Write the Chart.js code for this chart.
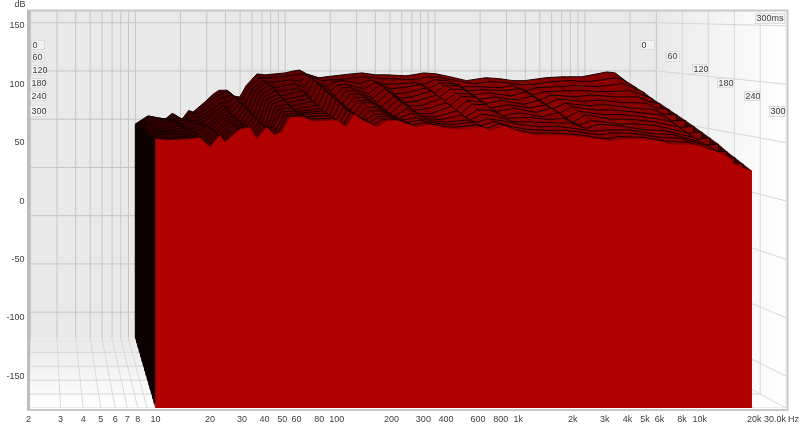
<!DOCTYPE html>
<html>
<head>
<meta charset="utf-8">
<title>Waterfall</title>
<script src="https://cdn.jsdelivr.net/npm/chart.js@4"></script>
<style>
  html, body { margin: 0; padding: 0; background: #fff; }
  canvas { display: block; }
</style>
</head>
<body>
<canvas id="waterfall" width="800" height="427"></canvas>
<script>
/* ── Axis ticks ── */
const dbTicks = [150, 100, 50, 0, -50, -100, -150];
const freqTicks = [2, 3, 4, 5, 6, 7, 8, 10, 20, 30, 40, 50, 60, 80, 100, 200, 300, 400, 600, 800,
  1000, 2000, 3000, 4000, 5000, 6000, 8000, 10000, 20000];
const gridFreqs = [2, 3, 4, 5, 6, 7, 8, 9, 10, 20, 30, 40, 50, 60, 70, 80, 90, 100, 200, 300, 400, 500,
  600, 700, 800, 900, 1000, 2000, 3000, 4000, 5000, 6000, 7000, 8000, 9000, 10000, 20000, 30000];
const timeTicks = [0, 60, 120, 180, 240, 300];

/* ── Waterfall data: dB per frequency, one list per time slice ── */
const freqs = [10, 12, 15.5, 17.6, 20, 22.7, 24.1, 29.2, 33.1, 36.2,
  41.1, 45.5, 49.8, 55, 64.9, 73.7, 100, 113, 125, 139,
  168, 188, 214, 275, 325, 403, 475, 636, 713, 841,
  1020, 1260, 1620, 2180, 2700, 3310, 3950, 5500, 7080, 9550, 14000, 15900, 19300];

const sliceTimes = [0, 20, 40, 60, 80, 100, 120, 140, 160, 180, 200, 220, 240, 260, 280, 300];

const slice0 = [45,53,49,56,48,59,57,68,76,80, 80,74,73,85,97,96,98,100,101,97, 93,94,95,97,98,96,96,95,96,98, 97,94,90,93,92,90,90,93,94,94,99,98,88];
const slice20 = [47,55,51,57,50,60,58,67,75,78, 79,73,72,84,94,94,96,97,98,95, 91,92,92,94,95,93,93,92,93,95, 94,91,88,90,89,87,87,90,91,90,94,92,84];
const slice40 = [49,56,53,57,52,59,58,65,73,75, 78,70,69,84,92,90,93,91,98,92, 86,91,92,89,93,88,89,90,88,93, 92,86,86,85,87,82,85,86,87,86,89,86,80];
const slice60 = [51,56,55,56,54,57,57,64,71,71, 77,68,66,83,91,86,90,86,96,90, 83,89,89,85,91,85,86,89,85,91, 90,83,84,83,85,79,82,83,83,82,83,80,75];
const slice80 = [52,55,56,55,55,55,56,63,69,67, 76,65,64,82,90,83,87,81,95,87, 79,87,87,81,90,81,82,87,82,89, 89,80,82,79,83,75,80,78,80,78,78,74,71];
const slice100 = [53,54,57,53,55,54,55,63,68,64, 74,63,62,81,88,80,85,78,92,85, 76,85,85,78,87,78,79,85,79,87, 86,77,79,76,80,72,77,75,76,74,73,69,67];
const slice120 = [54,53,57,52,54,54,53,62,67,61, 73,61,61,80,86,78,82,75,90,82, 74,83,83,75,85,75,76,82,76,84, 83,74,77,73,77,69,74,72,73,70,68,64,63];
const slice140 = [54,52,56,52,52,55,52,62,66,59, 71,59,59,79,84,76,80,72,88,80, 72,81,81,72,82,73,73,80,73,82, 81,71,74,71,74,66,72,69,69,67,64,59,59];
const slice160 = [53,52,55,53,50,56,51,62,65,57, 70,58,58,78,82,74,78,69,86,78, 70,79,79,70,80,70,71,77,70,79, 78,69,72,68,72,63,69,66,66,64,60,54,55];
const slice180 = [52,52,54,54,49,57,50,61,65,56, 69,57,57,77,81,72,76,67,84,76, 68,78,78,68,78,68,68,75,68,77, 76,66,69,65,69,60,67,63,63,61,56,50,51];
const slice200 = [51,53,53,55,47,57,50,61,64,55, 67,57,57,75,78,71,74,66,82,75, 67,75,75,67,74,67,66,72,66,73, 72,65,66,64,65,59,63,60,60,58,52,46,47];
const slice220 = [51,53,53,55,46,57,49,61,64,54, 66,57,58,74,76,71,73,65,80,73, 66,73,73,66,71,66,65,69,65,70, 68,63,63,62,62,57,61,59,56,55,49,42,43];
const slice240 = [52,53,53,55,46,57,49,61,63,54, 64,57,60,73,74,71,72,65,77,72, 66,71,71,66,68,65,64,66,64,67, 65,62,60,60,58,56,57,57,54,53,46,38,38];
const slice260 = [52,52,53,54,46,56,50,61,63,53, 64,57,59,72,73,70,71,64,76,71, 65,70,70,65,67,64,63,65,62,66, 62,59,58,58,56,54,56,55,52,51,44,35,34];
const slice280 = [53,52,53,54,46,56,50,61,63,53, 63,56,59,72,72,69,70,63,75,70, 64,69,69,64,66,63,62,64,61,65, 60,57,57,56,54,52,54,53,50,49,41,32,30];
const slice300 = [53,52,53,54,46,56,50,61,63,53, 63,56,59,71,72,68,69,63,74,69, 63,68,69,63,65,62,61,63,60,64, 59,56,56,55,53,51,53,52,48,48,39,30,26];

const slices = [slice0, slice20, slice40, slice60, slice80, slice100, slice120, slice140,
  slice160, slice180, slice200, slice220, slice240, slice260, slice280, slice300];

/* ── Axis limits and depth projection ── */
const DB_MIN = -177.2, DB_MAX = 162.7;
const F_MIN = 2, F_MAX = 30000;
const BACK_SCALE = 0.826;      // the 0ms wall is this much smaller than the front plane
const VANISH_LOGF = 0.364;
const VANISH_DB = 165.2;
const FONT = '"Liberation Sans", Arial, sans-serif';

// puts a (freq, dB, time) point on the flat front-plane axes
function project(f, db, t) {
  const s = BACK_SCALE + (1 - BACK_SCALE) * t / 300;
  return {
    x: Math.pow(10, VANISH_LOGF + (Math.log10(f) - VANISH_LOGF) * s),
    y: VANISH_DB + (db - VANISH_DB) * s
  };
}

function sliceData(vals, t) {
  const pts = vals.map((v, i) => project(freqs[i], v, t));
  pts.unshift(project(freqs[0], DB_MIN, t));
  pts.push(project(freqs[freqs.length - 1], DB_MIN, t));
  return pts;
}

function segments(pairs) {
  const out = [];
  pairs.forEach(([a, b]) => { out.push(a, b, { x: 100, y: null }); });
  return out;
}

/* ── Walls and grid ── */
const backWall = [project(F_MIN, DB_MAX, 0), project(F_MAX, DB_MAX, 0), project(F_MAX, DB_MIN, 0), project(F_MIN, DB_MIN, 0)];
const rightWall = [project(F_MAX, DB_MAX, 0), project(F_MAX, DB_MAX, 300), project(F_MAX, DB_MIN, 300), project(F_MAX, DB_MIN, 0)];
const floorWall = [project(F_MIN, DB_MIN, 0), project(F_MAX, DB_MIN, 0), project(F_MAX, DB_MIN, 300), project(F_MIN, DB_MIN, 300)];

const backGrid = segments([
  ...gridFreqs.map(f => [project(f, DB_MIN, 0), project(f, DB_MAX, 0)]),
  ...dbTicks.map(d => [project(F_MIN, d, 0), project(F_MAX, d, 0)])
]);
const sideGrid = segments([
  ...dbTicks.map(d => [project(F_MAX, d, 0), project(F_MAX, d, 300)]),
  ...timeTicks.slice(1).map(t => [project(F_MAX, DB_MIN, t), project(F_MAX, DB_MAX, t)])
]);
const floorGrid = segments([
  ...gridFreqs.map(f => [project(f, DB_MIN, 0), project(f, DB_MIN, 300)]),
  ...timeTicks.slice(1).map(t => [project(F_MIN, DB_MIN, t), project(F_MAX, DB_MIN, t)])
]);

// black end face of the waterfall, 10 Hz side
const endFace = [
  project(freqs[0], slice0[0], 0), project(freqs[0], slice300[0], 300),
  project(freqs[0], DB_MIN, 300), project(freqs[0], DB_MIN, 0)
];

function shape(data, backgroundColor) {
  return { data, fill: 'shape', backgroundColor, borderWidth: 0, borderColor: 'transparent' };
}
function lines(data, borderColor, borderWidth = 1) {
  return { data, fill: false, borderColor, borderWidth };
}
function rightGradient(c) {
  const { chart } = c;
  if (!chart.chartArea) return '#f4f4f4';
  const g = chart.ctx.createLinearGradient(chart.scales.x.getPixelForValue(project(F_MAX, 0, 0).x), 0, chart.chartArea.right, 0);
  g.addColorStop(0, '#e9e9e9');
  g.addColorStop(1, '#ffffff');
  return g;
}
function floorGradient(c) {
  const { chart } = c;
  if (!chart.chartArea) return '#f4f4f4';
  const g = chart.ctx.createLinearGradient(0, chart.scales.y.getPixelForValue(project(F_MAX, DB_MIN, 0).y), 0, chart.chartArea.bottom);
  g.addColorStop(0, '#e9e9e9');
  g.addColorStop(1, '#ffffff');
  return g;
}
// the low end of the surface reads much darker than the top end
function surfaceGradient(c) {
  const { chart } = c;
  if (!chart.chartArea) return '#880000';
  const xs = chart.scales.x;
  const g = chart.ctx.createLinearGradient(xs.getPixelForValue(10), 0, xs.getPixelForValue(400), 0);
  g.addColorStop(0, '#380000');
  g.addColorStop(0.55, '#680000');
  g.addColorStop(1, '#880000');
  return g;
}

const paintOrder = [
  shape(backWall, '#e9e9e9'),
  shape(rightWall, rightGradient),
  shape(floorWall, floorGradient),
  lines(backGrid, '#c6c6c6'),
  lines(sideGrid, '#d6d6d6'),
  lines(floorGrid, '#d8d8d8')
];

// back to front: slice, then what joins it to the next one, then the next slice over that
const last = freqs.length - 1;
slices.slice(0, -1).forEach((vals, i) => {
  const t = sliceTimes[i];
  const nextVals = slices[i + 1];
  const nextT = sliceTimes[i + 1];
  paintOrder.push({
    data: sliceData(vals, t),
    fill: 'shape',
    backgroundColor: surfaceGradient,
    borderColor: '#160000',
    borderWidth: 1
  });
  paintOrder.push(shape([
    project(freqs[last], vals[last], t), project(freqs[last], nextVals[last], nextT),
    project(freqs[last], DB_MIN, nextT), project(freqs[last], DB_MIN, t)
  ], '#3a0000'));
  paintOrder.push(lines(segments(freqs.map((f, k) => [
    project(f, vals[k], t), project(f, nextVals[k], nextT)
  ])), 'rgba(20,0,0,0.6)', 0.7));
});
paintOrder.push(shape(endFace, '#0c0000'));
paintOrder.push({
  data: sliceData(slice300, 300),
  fill: 'shape',
  backgroundColor: '#b00000',
  borderColor: '#b00000',
  borderWidth: 0.5
});
// Chart.js paints the highest order first
paintOrder.forEach((ds, i) => { ds.order = paintOrder.length - i; });

/* ── Frame and text that sit outside the scales ── */
const leftBoxes = [[31, 40, 14, 10], [31, 52, 14, 10], [31, 65, 14, 10], [30, 78, 15, 10], [30, 91, 16, 10], [30, 105, 16, 12]];
const rightBoxes = [[640, 40, 15, 10], [666, 51, 14, 11], [692, 64, 15, 10], [717, 78, 16, 10], [744, 91, 16, 10], [769, 106, 16, 11]];

const decorations = {
  id: 'decorations',
  afterDraw(chart) {
    const { ctx } = chart;
    ctx.save();
    // frame
    ctx.strokeStyle = '#c8c8c8';
    ctx.lineWidth = 2;
    ctx.strokeRect(28, 10.5, 759.5, 399.5);
    ctx.fillStyle = '#bdbdbd';
    ctx.fillRect(27, 10, 3, 400);

    // time labels
    ctx.font = '9px ' + FONT;
    ctx.textAlign = 'left';
    ctx.textBaseline = 'middle';
    const box = (x, y, w, h, txt) => {
      ctx.fillStyle = '#f4f4f4';
      ctx.fillRect(x, y, w, h);
      ctx.strokeStyle = '#dcdcdc';
      ctx.lineWidth = 1;
      ctx.strokeRect(x + 0.5, y + 0.5, w - 1, h - 1);
      ctx.fillStyle = '#3c3c3c';
      ctx.fillText(txt, x + 1.5, y + h / 2 + 0.5);
    };
    timeTicks.forEach((t, i) => {
      box(...leftBoxes[i], String(t));
      box(...rightBoxes[i], String(t));
    });
    box(755, 13, 30, 11, '300ms');

    // axis names and the clipped last tick
    ctx.fillStyle = '#3c3c3c';
    ctx.textAlign = 'center';
    ctx.fillText('dB', 20, 4.5);
    ctx.textAlign = 'right';
    ctx.fillText('30.0k', 786, 420);
    ctx.fillText('Hz', 799, 420);
    ctx.restore();
  }
};

function fmtFreq(v) {
  return v >= 1000 ? (v / 1000) + 'k' : String(v);
}

new Chart(document.getElementById('waterfall'), {
  type: 'line',
  data: { datasets: paintOrder },
  options: {
    responsive: false,
    animation: false,
    events: [],
    layout: { padding: { top: 11, right: 13.8, left: 0, bottom: 0 } },
    elements: { point: { radius: 0 }, line: { tension: 0, borderJoinStyle: 'round' } },
    plugins: { legend: { display: false }, tooltip: { enabled: false } },
    scales: {
      x: {
        type: 'logarithmic',
        min: F_MIN,
        max: F_MAX,
        border: { display: false },
        grid: { display: false, drawTicks: false },
        afterBuildTicks: axis => { axis.ticks = freqTicks.map(value => ({ value })); },
        afterFit: axis => { axis.height = 19; },
        ticks: {
          autoSkip: false,
          maxRotation: 0,
          padding: 6,
          color: '#3c3c3c',
          font: { family: FONT, size: 9 },
          callback: v => fmtFreq(v)
        }
      },
      y: {
        type: 'linear',
        min: DB_MIN,
        max: DB_MAX,
        border: { display: false },
        grid: { display: false, drawTicks: false },
        afterBuildTicks: axis => { axis.ticks = dbTicks.map(value => ({ value })); },
        afterFit: axis => { axis.width = 28.6; },
        ticks: {
          padding: 4,
          color: '#3c3c3c',
          font: { family: FONT, size: 9 }
        }
      }
    }
  },
  plugins: [decorations]
});
</script>
</body>
</html>
